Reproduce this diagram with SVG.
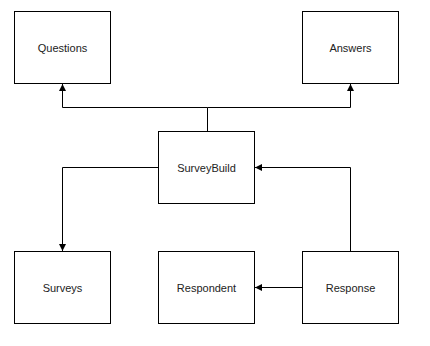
<svg xmlns="http://www.w3.org/2000/svg" width="430" height="346" viewBox="0 0 430 346">
<style>
.box{fill:#fff;stroke:#000;stroke-width:1}
.lbl{font-family:"Liberation Sans",Arial,sans-serif;font-size:11px;fill:#222;text-anchor:middle;dominant-baseline:central}
.conn{fill:none;stroke:#000;stroke-width:1}
</style>
<defs>
<marker id="arr" viewBox="0 0 10 10" refX="10" refY="5" markerWidth="7" markerHeight="7" markerUnits="userSpaceOnUse" orient="auto">
<path d="M0,0 L10,5 L0,10 z" fill="#000"/>
</marker>
</defs>
<rect width="430" height="346" fill="#fff"/>
<g id="connectors">
<path class="conn" d="M207.5,131 V107.5 H62.5 V84" marker-end="url(#arr)"/>
<path class="conn" d="M207.5,107.5 H350.5 V84" marker-end="url(#arr)"/>
<path class="conn" d="M158,167.5 H62.5 V251" marker-end="url(#arr)"/>
<path class="conn" d="M350.5,251 V167.5 H255" marker-end="url(#arr)"/>
<path class="conn" d="M302,287.5 H255" marker-end="url(#arr)"/>
</g>
<g id="questions"><rect class="box" x="14.5" y="11.5" width="96" height="72"/><text class="lbl" x="62.5" y="47.5">Questions</text></g>
<g id="answers"><rect class="box" x="302.5" y="11.5" width="96" height="72"/><text class="lbl" x="350.5" y="47.5">Answers</text></g>
<g id="surveybuild"><rect class="box" x="158.5" y="131.5" width="96" height="72"/><text class="lbl" x="206.5" y="167.5">SurveyBuild</text></g>
<g id="surveys"><rect class="box" x="14.5" y="251.5" width="96" height="72"/><text class="lbl" x="62.5" y="287.5">Surveys</text></g>
<g id="respondent"><rect class="box" x="158.5" y="251.5" width="96" height="72"/><text class="lbl" x="206.5" y="287.5">Respondent</text></g>
<g id="response"><rect class="box" x="302.5" y="251.5" width="96" height="72"/><text class="lbl" x="350.5" y="287.5">Response</text></g>
</svg>
